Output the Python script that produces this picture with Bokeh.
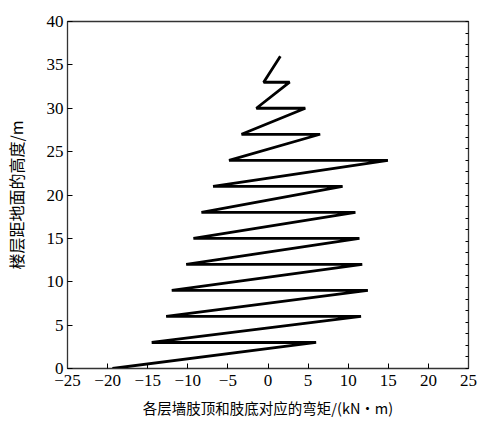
from bokeh.plotting import figure
from bokeh.models import LinearAxis, FixedTicker, Range1d
from bokeh.embed import file_html
from bokeh.resources import INLINE

# storey heights (m) and moments (kN·m) at wall-pier bottom / top
storey_base = [0, 3, 6, 9, 12, 15, 18, 21, 24, 27, 30, 33]
storey_top = [3, 6, 9, 12, 15, 18, 21, 24, 27, 30, 33, 36]
moment_bottom = [-19.4, -14.5, -12.7, -12.0, -10.2, -9.3, -8.3, -6.85, -4.86, -3.3, -1.45, -0.54]
moment_top = [6.0, 11.6, 12.45, 11.75, 11.4, 10.9, 9.3, 14.95, 6.5, 4.65, 2.7, 1.54]

x_ticks = [-25, -20, -15, -10, -5, 0, 5, 10, 15, 20, 25]
y_ticks = [0, 5, 10, 15, 20, 25, 30, 35, 40]
right_ticks = [i * 40 / 30 for i in range(31)]

xs, ys = [], []
for b, t, mb, mt in zip(storey_base, storey_top, moment_bottom, moment_top):
    xs += [mb, mt]
    ys += [b, t]

p = figure(width=481, height=421, output_backend="svg", toolbar_location=None,
           x_range=Range1d(-25, 25), y_range=Range1d(0, 40),
           min_border_left=67, min_border_right=13, min_border_top=21, min_border_bottom=53)
p.grid.visible = False
p.outline_line_color = "#333333"
p.outline_line_width = 1.3

p.line(xs, ys, line_color="black", line_width=2.8)

serif = "Liberation Serif"
cjk = "Noto Sans CJK SC"

xa = p.xaxis[0]
xa.ticker = FixedTicker(ticks=x_ticks)
xa.major_label_overrides = {v: (str(v).replace("-", "\u2212")) for v in x_ticks}
xa.major_tick_in = 5
xa.major_tick_out = 0
xa.minor_tick_line_color = None
xa.axis_line_color = "#333333"
xa.major_label_text_font = serif
xa.major_label_text_font_size = "17px"
xa.major_label_text_color = "black"
xa.major_label_standoff = 6
xa.axis_label = "各层墙肢顶和肢底对应的弯矩/(kN・m)"
xa.axis_label_text_font = cjk
xa.axis_label_text_font_size = "14.5px"
xa.axis_label_text_color = "black"
xa.axis_label_text_font_style = "normal"
xa.axis_label_standoff = 8

ya = p.yaxis[0]
ya.ticker = FixedTicker(ticks=y_ticks)
ya.major_tick_in = 5
ya.major_tick_out = 0
ya.minor_tick_line_color = None
ya.axis_line_color = "#333333"
ya.major_label_text_font = serif
ya.major_label_text_font_size = "17px"
ya.major_label_text_color = "black"
ya.major_label_standoff = 4
ya.axis_label = "楼层距地面的高度/m"
ya.axis_label_text_font = cjk
ya.axis_label_text_font_size = "16px"
ya.axis_label_text_color = "black"
ya.axis_label_text_font_style = "normal"
ya.axis_label_standoff = 16

ra = LinearAxis(ticker=FixedTicker(ticks=right_ticks),
                major_tick_in=3, major_tick_out=0, minor_tick_line_color=None,
                major_label_overrides={t: "" for t in right_ticks},
                axis_line_color="#333333")
p.add_layout(ra, "right")

open("out.html", "w").write(file_html(p, INLINE))
